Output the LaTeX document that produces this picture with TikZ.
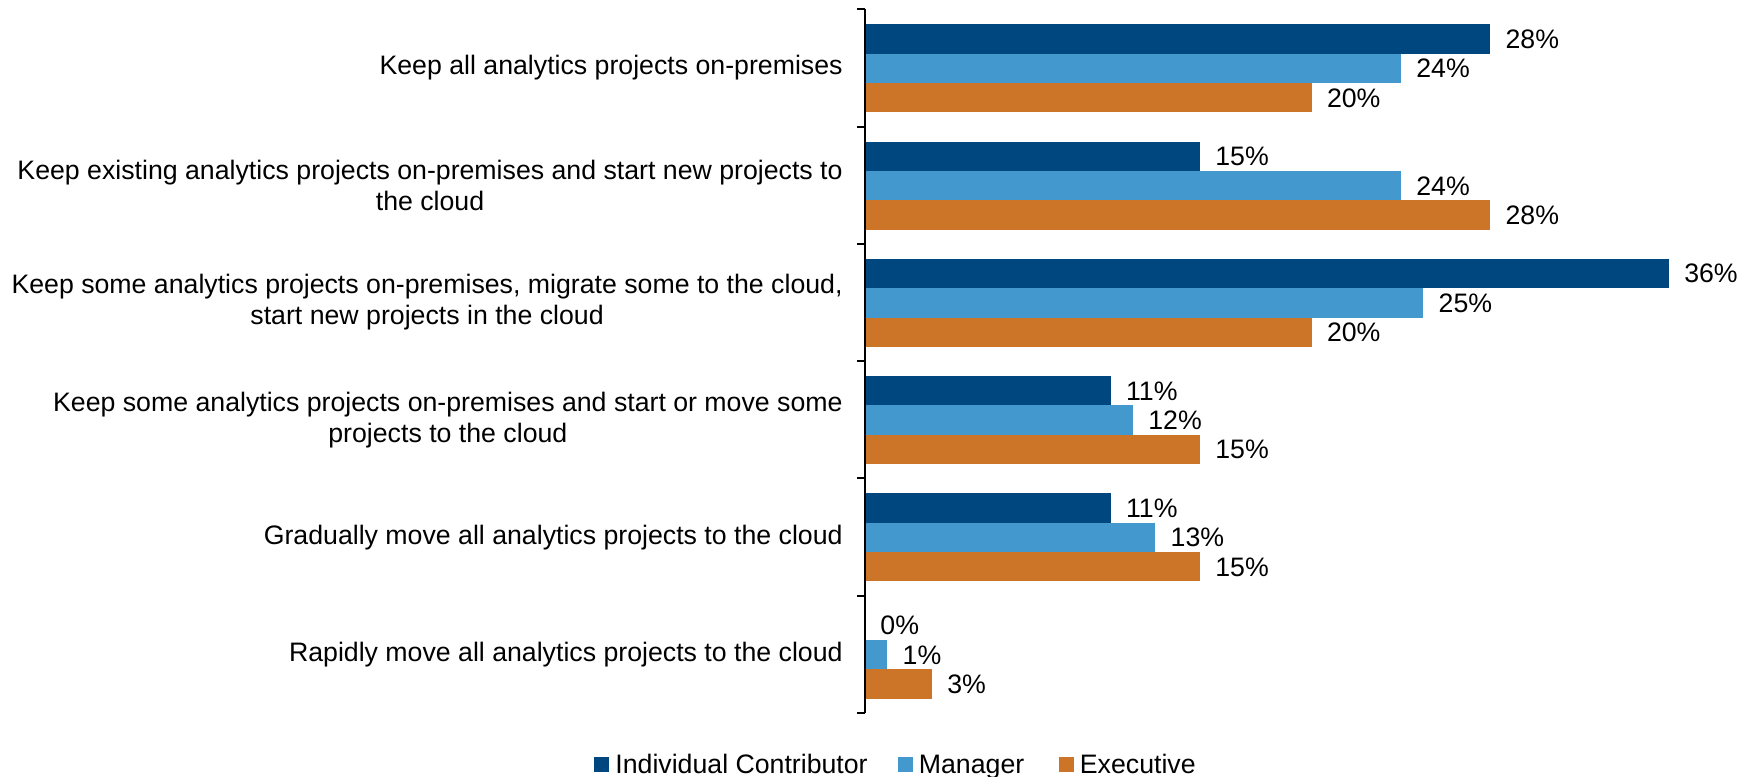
\documentclass[tikz,border=0pt]{standalone}
\usepackage{fontspec}
\setmainfont{Liberation Sans}
\usetikzlibrary{positioning}
\definecolor{icblue}{RGB}{0,70,127}
\definecolor{mgrblue}{RGB}{67,152,206}
\definecolor{execorange}{RGB}{204,117,40}
\newcommand{\pctw}{11.165pt}
\tikzset{
  chartfont/.style={font=\fontsize{13.35}{15.5}\selectfont},
  cattext/.style={chartfont,anchor=east,align=center,inner sep=0pt},
  valtext/.style={chartfont,inner sep=0pt,text height=9.5pt,text depth=0pt},
  legtext/.style={chartfont,inner sep=0pt,text height=9.5pt,text depth=0pt},
  barbox/.style={anchor=north west,inner sep=0pt,outer sep=0pt,minimum height=14.675pt},
  icbar/.style={barbox,fill=icblue},
  mgrbar/.style={barbox,fill=mgrblue},
  execbar/.style={barbox,fill=execorange},
  legbox/.style={inner sep=0pt,outer sep=0pt,minimum size=7.5pt},
}
\begin{document}
\begin{tikzpicture}[x=0.5pt,y=-0.5pt]
\useasboundingbox (0,0) rectangle (1747,777);
%%
\node (cat_1) at (843,67.9) [cattext] {Keep all analytics projects on-premises};
\node (cat_2) at (843,185.2) [cattext] {Keep existing analytics projects on-premises and start new projects to\\the cloud};
\node (cat_3) at (843,302.5) [cattext] {Keep some analytics projects on-premises, migrate some to the cloud,\\start new projects in the cloud};
\node (cat_4) at (843,419.8) [cattext] {Keep some analytics projects on-premises and start or move some\\projects to the cloud};
\node (cat_5) at (843,537.1) [cattext] {Gradually move all analytics projects to the cloud};
\node (cat_6) at (843,654.3) [cattext] {Rapidly move all analytics projects to the cloud};
%
\node (bar_ic_1) at (865,24.25) [icbar,minimum width=28*\pctw] {};
\node (bar_mgr_1) at (865,53.6) [mgrbar,minimum width=24*\pctw] {};
\node (bar_exec_1) at (865,82.95) [execbar,minimum width=20*\pctw] {};
\node (bar_ic_2) at (865,141.53) [icbar,minimum width=15*\pctw] {};
\node (bar_mgr_2) at (865,170.88) [mgrbar,minimum width=24*\pctw] {};
\node (bar_exec_2) at (865,200.23) [execbar,minimum width=28*\pctw] {};
\node (bar_ic_3) at (865,258.81) [icbar,minimum width=36*\pctw] {};
\node (bar_mgr_3) at (865,288.16) [mgrbar,minimum width=25*\pctw] {};
\node (bar_exec_3) at (865,317.51) [execbar,minimum width=20*\pctw] {};
\node (bar_ic_4) at (865,376.09) [icbar,minimum width=11*\pctw] {};
\node (bar_mgr_4) at (865,405.44) [mgrbar,minimum width=12*\pctw] {};
\node (bar_exec_4) at (865,434.79) [execbar,minimum width=15*\pctw] {};
\node (bar_ic_5) at (865,493.37) [icbar,minimum width=11*\pctw] {};
\node (bar_mgr_5) at (865,522.72) [mgrbar,minimum width=13*\pctw] {};
\node (bar_exec_5) at (865,552.07) [execbar,minimum width=15*\pctw] {};
\node (bar_ic_6) at (865,610.65) [icbar,minimum width=0pt] {};
\node (bar_mgr_6) at (865,640.0) [mgrbar,minimum width=1*\pctw] {};
\node (bar_exec_6) at (865,669.35) [execbar,minimum width=3*\pctw] {};
%
\node (val_ic_1) [valtext,right=7.5pt of bar_ic_1] {28\%};
\node (val_mgr_1) [valtext,right=7.5pt of bar_mgr_1] {24\%};
\node (val_exec_1) [valtext,right=7.5pt of bar_exec_1] {20\%};
\node (val_ic_2) [valtext,right=7.5pt of bar_ic_2] {15\%};
\node (val_mgr_2) [valtext,right=7.5pt of bar_mgr_2] {24\%};
\node (val_exec_2) [valtext,right=7.5pt of bar_exec_2] {28\%};
\node (val_ic_3) [valtext,right=7.5pt of bar_ic_3] {36\%};
\node (val_mgr_3) [valtext,right=7.5pt of bar_mgr_3] {25\%};
\node (val_exec_3) [valtext,right=7.5pt of bar_exec_3] {20\%};
\node (val_ic_4) [valtext,right=7.5pt of bar_ic_4] {11\%};
\node (val_mgr_4) [valtext,right=7.5pt of bar_mgr_4] {12\%};
\node (val_exec_4) [valtext,right=7.5pt of bar_exec_4] {15\%};
\node (val_ic_5) [valtext,right=7.5pt of bar_ic_5] {11\%};
\node (val_mgr_5) [valtext,right=7.5pt of bar_mgr_5] {13\%};
\node (val_exec_5) [valtext,right=7.5pt of bar_exec_5] {15\%};
\node (val_ic_6) [valtext,right=7.5pt of bar_ic_6] {0\%};
\node (val_mgr_6) [valtext,right=7.5pt of bar_mgr_6] {1\%};
\node (val_exec_6) [valtext,right=7.5pt of bar_exec_6] {3\%};
%
\draw [black,line width=1pt] (865,9.3) -- (865,713);
\draw [black,line width=1pt] (857,9.3) -- (865,9.3);
\draw [black,line width=1pt] (857,126.58) -- (865,126.58);
\draw [black,line width=1pt] (857,243.86) -- (865,243.86);
\draw [black,line width=1pt] (857,361.14) -- (865,361.14);
\draw [black,line width=1pt] (857,478.42) -- (865,478.42);
\draw [black,line width=1pt] (857,595.7) -- (865,595.7);
\draw [black,line width=1pt] (857,713) -- (865,713);
%
\node (leg_ic) at (601.5,764) [legbox,fill=icblue] {};
\node (leg_ic_txt) [legtext,right=3pt of leg_ic] {Individual Contributor};
\node (leg_mgr) at (905,764) [legbox,fill=mgrblue] {};
\node (leg_mgr_txt) [legtext,right=3pt of leg_mgr] {Manager};
\node (leg_exec) at (1066,764) [legbox,fill=execorange] {};
\node (leg_exec_txt) [legtext,right=3pt of leg_exec] {Executive};
%
\end{tikzpicture}
\end{document}
